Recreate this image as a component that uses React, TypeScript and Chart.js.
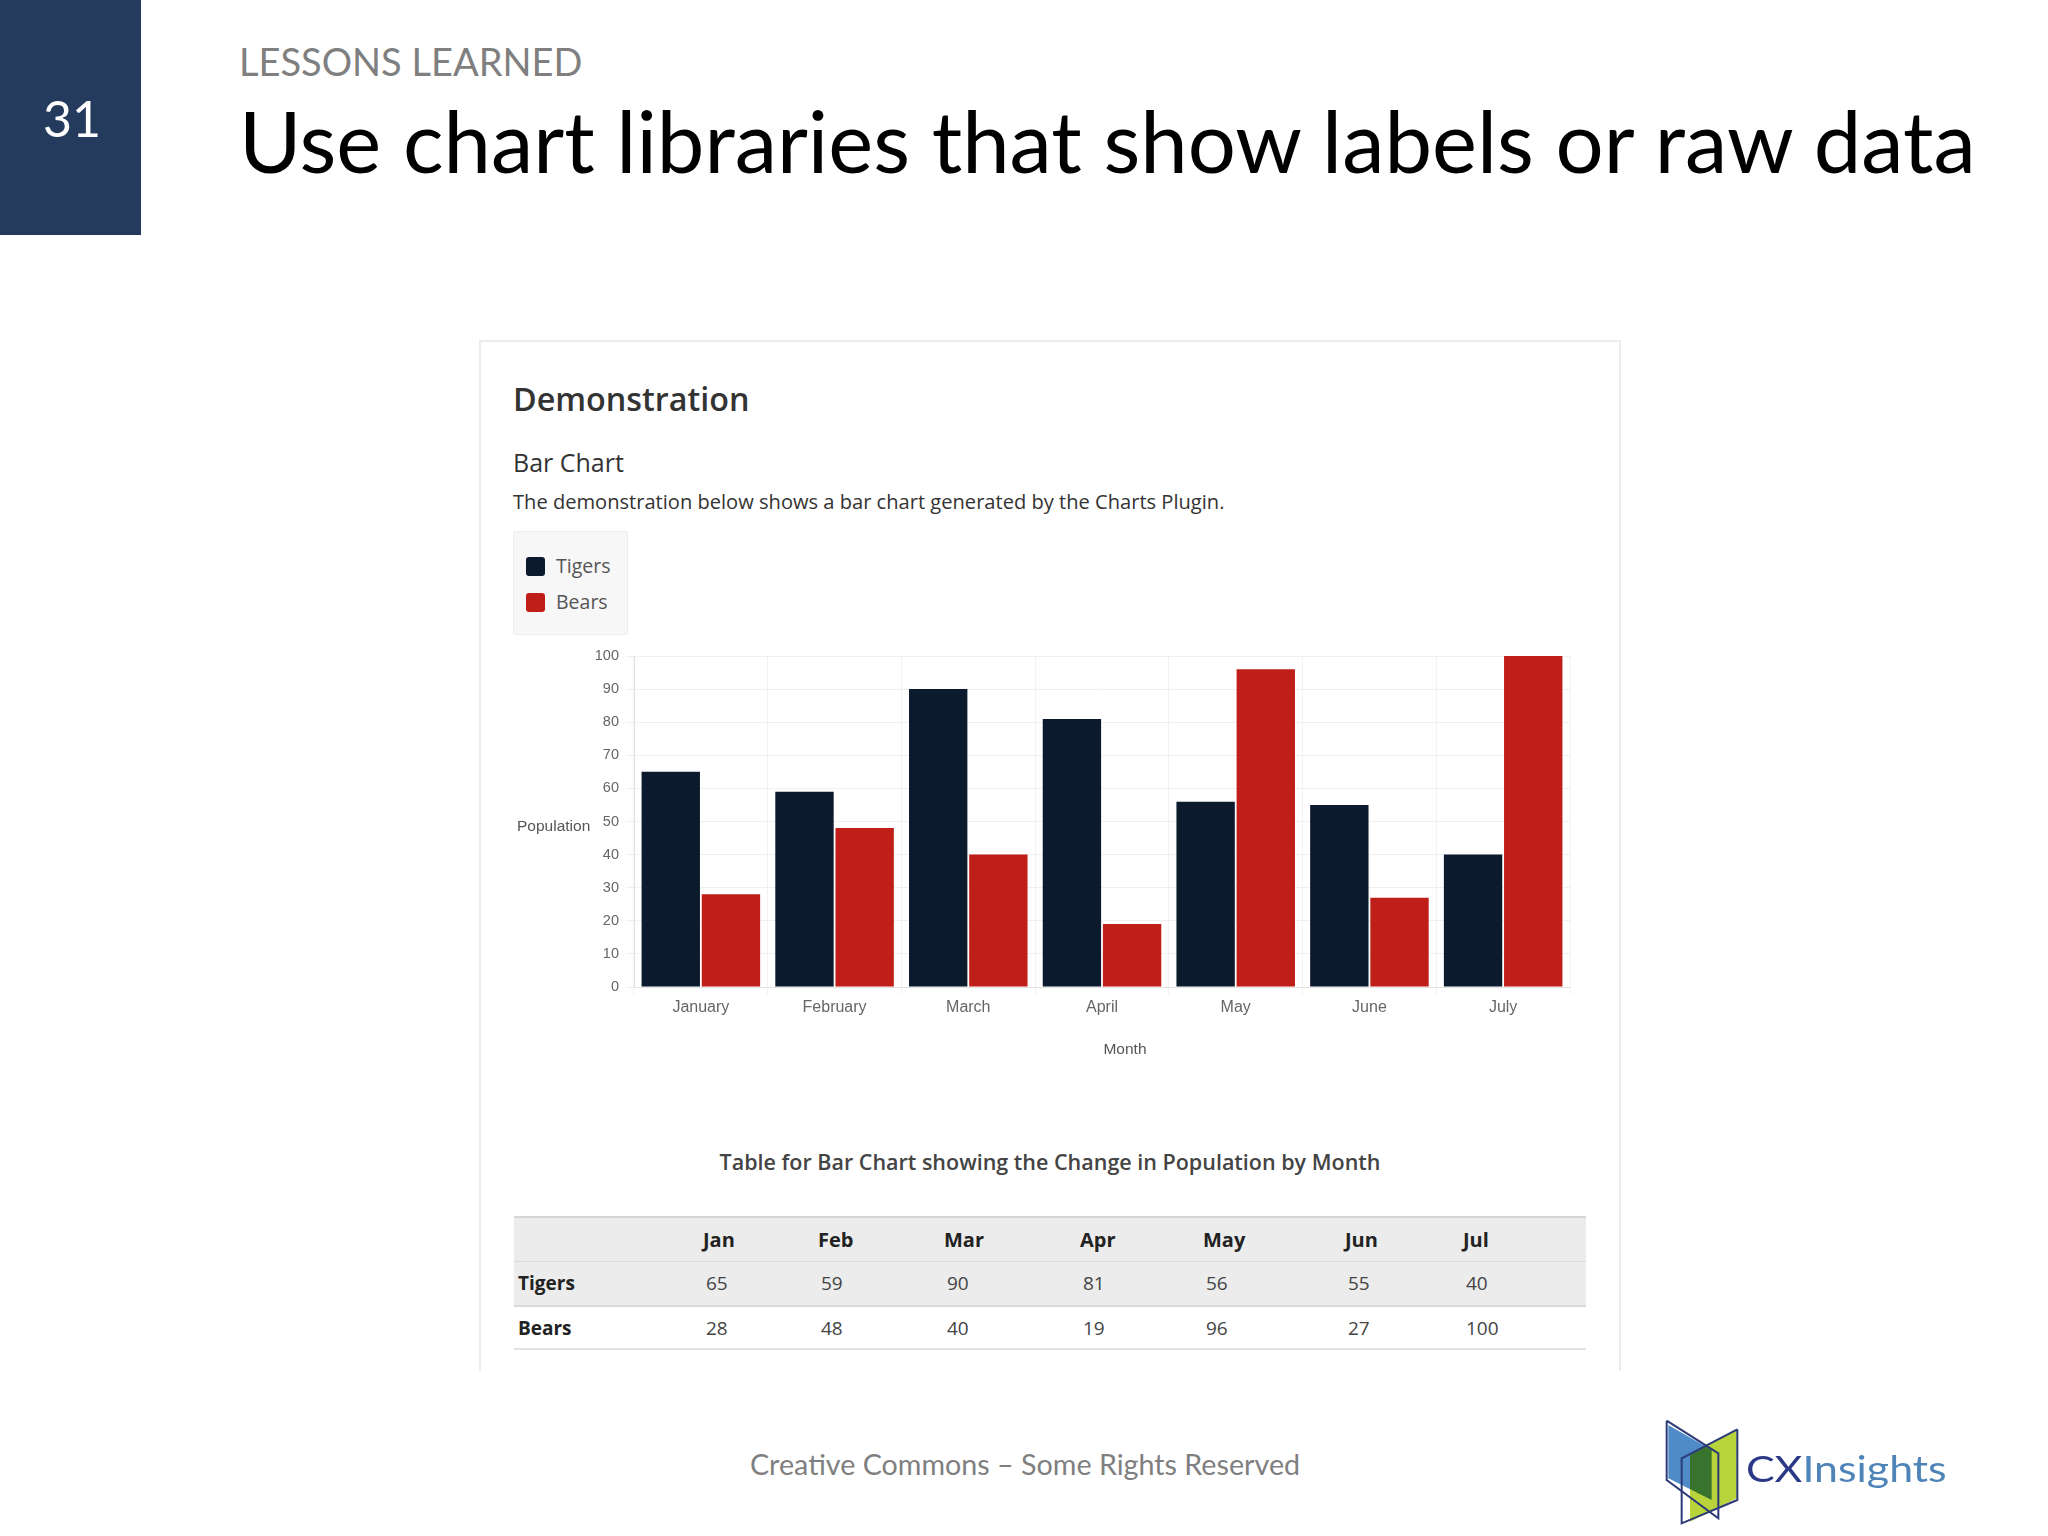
import React, { useEffect, useRef } from 'react';
import { Chart, registerables } from 'chart.js';

Chart.register(...registerables);

// ---- data ----
const MONTHS = ['January', 'February', 'March', 'April', 'May', 'June', 'July'];
const MONTHS_SHORT = ['Jan', 'Feb', 'Mar', 'Apr', 'May', 'Jun', 'Jul'];
const TIGERS = [65, 59, 90, 81, 56, 55, 40];
const BEARS = [28, 48, 40, 19, 96, 27, 100];
const SERIES_NAMES = ['Tigers', 'Bears'];
const Y_MIN = 0;
const Y_MAX = 100;
const Y_STEP = 10;
const Y_TITLE = 'Population';
const X_TITLE = 'Month';

// ---- styles ----
const SERIES_COLORS = ['#0b1a2d', '#bf1f18'];
const TABLE_COL_WIDTHS = [185, 115, 126, 136, 123, 142, 118, 127];
const SANS = '"Open Sans", "Noto Sans", sans-serif';
const SLIDE = 'Lato, "Noto Sans", sans-serif';
const AXIS_FONT = '"Liberation Sans", Arial, sans-serif';

const axisTitlePlugin = {
  id: 'axisTitles',
  afterDraw(chart: any, _args: any, opts: any) {
    const { ctx, chartArea } = chart;
    ctx.save();
    ctx.fillStyle = opts.color;
    ctx.font = `${opts.size}px ${AXIS_FONT}`;
    ctx.textBaseline = 'middle';
    ctx.textAlign = 'left';
    ctx.fillText(opts.yText, opts.yX, (chartArea.top + chartArea.bottom) / 2 + opts.yDy);
    ctx.textAlign = 'center';
    ctx.fillText(opts.xText, (chartArea.left + chartArea.right) / 2 + opts.xDx, chartArea.bottom + opts.xDy);
    ctx.restore();
  },
};

function BarChart() {
  const ref = useRef<HTMLCanvasElement>(null);
  useEffect(() => {
    const seriesValues = [TIGERS, BEARS];
    const chart = new Chart(ref.current as HTMLCanvasElement, {
      type: 'bar',
      data: {
        labels: MONTHS,
        datasets: SERIES_NAMES.map((name, i) => ({
          label: name,
          data: seriesValues[i],
          backgroundColor: SERIES_COLORS[i],
          borderWidth: 0,
          categoryPercentage: 0.9,
          barPercentage: 0.97,
        })),
      },
      options: {
        animation: false,
        responsive: false,
        layout: { padding: { top: 16, right: 43, left: 0, bottom: 0 } },
        plugins: {
          legend: { display: false },
          tooltip: { enabled: false },
          axisTitles: {
            yText: Y_TITLE,
            xText: X_TITLE,
            color: '#555',
            size: 15.5,
            yX: 4,
            yDy: 5,
            xDx: 23,
            xDy: 63,
          },
        } as any,
        scales: {
          x: {
            grid: { color: '#f3f3f3', tickLength: 8, offset: true },
            border: { color: '#e2e2e2' },
            ticks: { color: '#666', font: { family: AXIS_FONT, size: 16 }, padding: 3, maxRotation: 0 },
            afterFit(s: any) { s.height = 83; },
          },
          y: {
            min: Y_MIN,
            max: Y_MAX,
            grid: { color: '#f0f0f0', tickLength: 8 },
            border: { color: '#e2e2e2' },
            ticks: { stepSize: Y_STEP, color: '#666', font: { family: AXIS_FONT, size: 14.5 }, padding: 7 },
            afterFit(s: any) { s.width = 121; },
          },
        },
      },
      plugins: [axisTitlePlugin],
    });
    return () => chart.destroy();
  }, []);
  return (
    <canvas
      ref={ref}
      width={1100}
      height={430}
      style={{ position: 'absolute', left: 513, top: 640, width: 1100, height: 430 }}
    />
  );
}

function Logo() {
  return (
    <svg
      style={{ position: 'absolute', left: 1640, top: 1400 }}
      width={330}
      height={136}
      viewBox="0 0 990 408"
    >
      <polygon points="85,75 215,150 215,300 85,235" fill="#4f8bc9" />
      <polygon points="290,90 290,295 150,365 150,165" fill="#b8d43a" style={{ mixBlendMode: 'multiply' }} />
      <polyline points="80,62 80,240 235,355 235,160 80,62" fill="none" stroke="#2c3a78" strokeWidth={6} />
      <polyline points="292,88 292,300 125,370 125,175 292,88" fill="none" stroke="#2c3a78" strokeWidth={6} />
      <text
        x={318}
        y={246}
        fontFamily={SLIDE}
        fontSize={112}
        textLength={602}
        lengthAdjust="spacingAndGlyphs"
      >
        <tspan fill="#2b3886">CX</tspan>
        <tspan fill="#4f84b8">Insights</tspan>
      </text>
    </svg>
  );
}

export default function App() {
  const abs = (left: number, top: number, extra: any = {}) => ({
    position: 'absolute' as const,
    left,
    top,
    lineHeight: 1,
    whiteSpace: 'nowrap' as const,
    margin: 0,
    ...extra,
  });
  const seriesValues = [TIGERS, BEARS];
  return (
    <div style={{ position: 'absolute', left: 0, top: 0, width: 2048, height: 1536, background: '#fff', overflow: 'hidden' }}>
      {/* slide header */}
      <div style={{ position: 'absolute', left: 0, top: 0, width: 141, height: 235, background: '#253b5e' }} />
      <div style={abs(43, 93, { fontFamily: SLIDE, fontSize: 50, color: '#fff' })}>31</div>
      <div style={abs(239, 42, { fontFamily: SLIDE, fontSize: 38, color: '#7f7f7f' })}>LESSONS LEARNED</div>
      <div style={abs(239, 98, { fontFamily: SLIDE, fontSize: 85, color: '#000' })}>
        Use chart libraries that show labels or raw data
      </div>

      {/* card */}
      <div
        style={{
          position: 'absolute',
          left: 479,
          top: 340,
          width: 1142,
          height: 1031,
          boxSizing: 'border-box',
          borderTop: '2px solid #ececec',
          borderLeft: '2px solid #ececec',
          borderRight: '2px solid #ececec',
        }}
      />
      <div style={abs(513, 382, { fontFamily: SANS, fontSize: 32.3, fontWeight: 600, color: '#333' })}>Demonstration</div>
      <div style={abs(513, 450, { fontFamily: SANS, fontSize: 25, color: '#333' })}>Bar Chart</div>
      <div style={abs(513, 492, { fontFamily: SANS, fontSize: 20.1, color: '#333' })}>
        The demonstration below shows a bar chart generated by the Charts Plugin.
      </div>

      {/* legend */}
      <div
        style={{
          position: 'absolute',
          left: 513,
          top: 531,
          width: 115,
          height: 104,
          boxSizing: 'border-box',
          background: '#f7f7f7',
          border: '1px solid #ededed',
          borderRadius: 2,
        }}
      />
      {SERIES_NAMES.map((name, i) => (
        <React.Fragment key={name}>
          <div
            style={{
              position: 'absolute',
              left: 526,
              top: 557 + i * 36,
              width: 19,
              height: 19,
              borderRadius: 3,
              background: SERIES_COLORS[i],
            }}
          />
          <div style={abs(556, 556 + i * 36, { fontFamily: SANS, fontSize: 19.5, color: '#555' })}>{name}</div>
        </React.Fragment>
      ))}

      <BarChart />

      {/* table */}
      <div style={abs(479, 1151, { width: 1142, textAlign: 'center', fontFamily: SANS, fontSize: 21.5, fontWeight: 600, color: '#444' })}>
        Table for Bar Chart showing the Change in Population by Month
      </div>
      <table
        style={{
          position: 'absolute',
          left: 514,
          top: 1216,
          width: 1072,
          borderCollapse: 'collapse',
          tableLayout: 'fixed',
          fontFamily: SANS,
          fontSize: 19,
          color: '#444',
        }}
      >
        <colgroup>
          {TABLE_COL_WIDTHS.map((w, i) => (
            <col key={i} style={{ width: w }} />
          ))}
        </colgroup>
        <thead>
          <tr style={{ background: '#ececec', height: 44, borderTop: '2px solid #d6d6d6' }}>
            <th />
            {MONTHS_SHORT.map((m) => (
              <th key={m} style={{ textAlign: 'left', padding: '0 4px', fontWeight: 700, color: '#222', fontSize: 20 }}>
                {m}
              </th>
            ))}
          </tr>
        </thead>
        <tbody>
          {SERIES_NAMES.map((name, r) => (
            <tr
              key={name}
              style={{
                background: r === 0 ? '#ececec' : '#fff',
                height: r === 0 ? 45 : 43,
                borderTop: r === 0 ? '1px solid #dcdcdc' : '2px solid #d9d9d9',
                borderBottom: r === 1 ? '2px solid #e2e2e2' : undefined,
              }}
            >
              <th style={{ textAlign: 'left', padding: '0 4px', fontWeight: 700, color: '#222' }}>{name}</th>
              {seriesValues[r].map((v, c) => (
                <td key={c} style={{ textAlign: 'left', padding: '0 4px 0 7px' }}>
                  {v}
                </td>
              ))}
            </tr>
          ))}
        </tbody>
      </table>

      {/* footer */}
      <div style={abs(750, 1450, { fontFamily: SLIDE, fontSize: 28.7, color: '#7f7f7f' })}>
        Creative Commons – Some Rights Reserved
      </div>
      <Logo />
    </div>
  );
}
